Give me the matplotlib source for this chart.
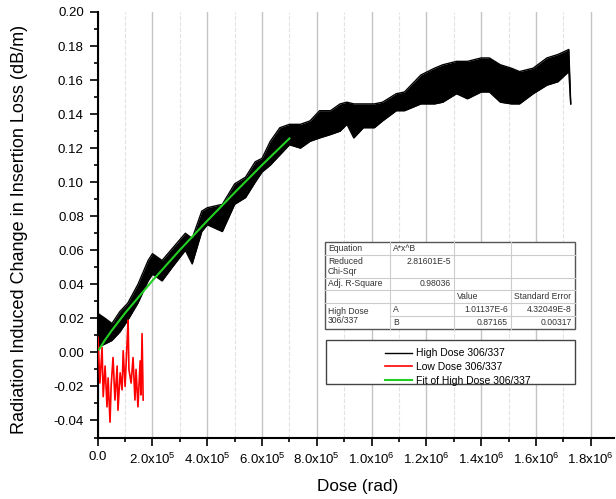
import numpy as np
import matplotlib
matplotlib.use("Agg")
import matplotlib.pyplot as plt
from matplotlib.ticker import MultipleLocator, FuncFormatter
from matplotlib.patches import Rectangle
from matplotlib.lines import Line2D

plt.rcParams['font.family'] = ['Liberation Sans', 'DejaVu Sans']
plt.rcParams['mathtext.fontset'] = 'custom'
plt.rcParams['mathtext.rm'] = 'Liberation Sans'
plt.rcParams['mathtext.it'] = 'Liberation Sans'

# high dose run: envelope of the noisy trace (dose in rad, loss in dB/m)
high_dose = [0, 2.7e4, 5.2e4, 8.1e4, 1.1e5, 1.47e5, 1.84e5, 2.0e5, 2.35e5, 2.72e5,
             3.2e5, 3.45e5, 3.8e5, 4.0e5, 4.55e5, 5.0e5, 5.4e5, 5.75e5, 6.0e5, 6.3e5,
             6.65e5, 7.0e5, 7.4e5, 7.75e5, 8.1e5, 8.5e5, 8.85e5, 9.1e5, 9.35e5, 9.7e5,
             1.01e6, 1.04e6, 1.09e6, 1.12e6, 1.18e6, 1.23e6, 1.26e6, 1.31e6, 1.35e6, 1.40e6,
             1.43e6, 1.47e6, 1.51e6, 1.54e6, 1.59e6, 1.64e6, 1.68e6, 1.72e6, 1.727e6]
high_lo = [0.003, 0.005, 0.007, 0.012, 0.019, 0.029, 0.042, 0.046, 0.042, 0.050,
           0.060, 0.052, 0.071, 0.075, 0.071, 0.087, 0.091, 0.100, 0.106, 0.110,
           0.116, 0.122, 0.120, 0.124, 0.126, 0.128, 0.130, 0.134, 0.126, 0.132,
           0.132, 0.136, 0.142, 0.142, 0.146, 0.146, 0.147, 0.152, 0.149, 0.153,
           0.153, 0.147, 0.146, 0.146, 0.152, 0.157, 0.159, 0.165, 0.146]
high_hi = [0.023, 0.020, 0.017, 0.024, 0.029, 0.040, 0.054, 0.058, 0.054, 0.061,
           0.070, 0.067, 0.083, 0.085, 0.087, 0.099, 0.103, 0.112, 0.114, 0.124,
           0.132, 0.134, 0.134, 0.136, 0.142, 0.142, 0.146, 0.147, 0.146, 0.146,
           0.146, 0.147, 0.152, 0.153, 0.163, 0.167, 0.169, 0.171, 0.171, 0.173,
           0.173, 0.169, 0.167, 0.165, 0.167, 0.173, 0.175, 0.178, 0.146]

# low dose run
low_dose = [1e3, 8e3, 1.6e4, 2e4, 2.7e4, 3.4e4, 3.8e4, 4.5e4, 4.9e4, 5.6e4,
            6.3e4, 7.1e4, 7.4e4, 8.2e4, 8.9e4, 9.3e4, 1.0e5, 1.07e5, 1.11e5, 1.14e5,
            1.22e5, 1.29e5, 1.36e5, 1.40e5, 1.47e5, 1.55e5, 1.58e5, 1.62e5, 1.66e5]
low_loss = [0.009, -0.018, 0.003, -0.026, -0.008, -0.032, -0.015, -0.041, -0.020, -0.003,
            -0.028, -0.008, -0.034, -0.012, -0.022, 0.001, -0.020, 0.005, 0.019, -0.010,
            -0.018, -0.003, -0.028, -0.010, -0.032, -0.005, -0.025, 0.011, -0.028]

# allometric fit of the high dose run
fit_dose = [5e3, 2.5e4, 5e4, 1e5, 2e5, 3e5, 4e5, 5e5, 6e5, 7e5]
fit_loss = [0.0017, 0.0069, 0.0126, 0.0231, 0.0422, 0.0602, 0.0773, 0.0939, 0.1101, 0.1257]

legend_labels = ['High Dose 306/337', 'Low Dose 306/337', 'Fit of High Dose 306/337']

table_rows = [
    [('Equation', 'l'), ('A*x^B', 'l'), ('', ''), ('', '')],
    [('Reduced\nChi-Sqr', 'l'), ('2.81601E-5', 'r'), ('', ''), ('', '')],
    [('Adj. R-Square', 'l'), ('0.98036', 'r'), ('', ''), ('', '')],
    [('', ''), ('', ''), ('Value', 'l'), ('Standard Error', 'l')],
    [('', ''), ('A', 'l'), ('1.01137E-6', 'r'), ('4.32049E-8', 'r')],
    [('', ''), ('B', 'l'), ('0.87165', 'r'), ('0.00317', 'r')],
]

W, H = 616, 499
fig = plt.figure(figsize=(W / 100, H / 100), dpi=100)
ax = fig.add_axes([97.7 / W, 1 - 437.5 / H, (614 - 97.7) / W, (437.5 - 12) / H])

ax.fill_between(high_dose, high_lo, high_hi, color='black', lw=0, zorder=3)
l1, = ax.plot(high_dose, high_hi, color='black', lw=1, zorder=3)
ax.plot(high_dose, high_lo, color='black', lw=1, zorder=3)
l2, = ax.plot(low_dose, low_loss, color='#ff0000', lw=1.2, zorder=4)
l3, = ax.plot(fit_dose, fit_loss, color='#22d022', lw=1.5, zorder=5)

ax.set_xlim(0, 1.885e6)
ax.set_ylim(-0.05, 0.20)

ax.xaxis.set_major_locator(MultipleLocator(2e5))
ax.xaxis.set_minor_locator(MultipleLocator(1e5))
ax.yaxis.set_major_locator(MultipleLocator(0.02))
ax.yaxis.set_minor_locator(MultipleLocator(0.01))


def sci(v, pos):
    if abs(v) < 1:
        return '0.0'
    if v < 0:
        return ''
    e = int(np.floor(np.log10(v) + 1e-9))
    return '%.1fx10$^{%d}$' % (v / 10 ** e, e)


ax.xaxis.set_major_formatter(FuncFormatter(sci))
ax.yaxis.set_major_formatter(FuncFormatter(lambda v, p: '%.2f' % (0 if abs(v) < 1e-9 else v)))

for s in ['top', 'right']:
    ax.spines[s].set_visible(False)
for s in ['left', 'bottom']:
    ax.spines[s].set_linewidth(1.5)
ax.tick_params(which='major', length=6, width=1.2, labelsize=9.5, pad=4)
ax.tick_params(which='minor', length=3, width=1.2)

ax.grid(True, axis='x', which='major', color='#c4c4c4', lw=1, zorder=0)
ax.grid(True, axis='x', which='minor', color='#e2e2e2', lw=0.8, ls='--', zorder=0)

ax.set_xlabel('Dose (rad)', fontsize=12.3)
ax.set_ylabel('Radiation Induced Change in Insertion Loss (dB/m)', fontsize=13)
ax.xaxis.set_label_coords(0.504, -0.0975)
ax.yaxis.set_label_coords(-0.135, 0.49)

# fit results table
cols = [325, 390, 454, 511, 575]
rows = [242, 255, 278, 290, 303, 316, 329]


def fx(px):
    return px / W


def fy(py):
    return 1 - py / H


fig.patches.append(Rectangle((fx(cols[0]), fy(rows[-1])), fx(cols[-1]) - fx(cols[0]),
                             fy(rows[0]) - fy(rows[-1]), transform=fig.transFigure,
                             facecolor='white', edgecolor='#555555', lw=1, zorder=10))
for c in cols[1:-1]:
    fig.lines.append(Line2D([fx(c), fx(c)], [fy(rows[0]), fy(rows[-1])],
                            transform=fig.transFigure, color='#cccccc', lw=0.8, zorder=11))
for i, r in enumerate(rows[1:-1]):
    x0 = cols[1] if i == 4 else cols[0]
    fig.lines.append(Line2D([fx(x0), fx(cols[-1])], [fy(r), fy(r)],
                            transform=fig.transFigure, color='#cccccc', lw=0.8, zorder=11))
for i, row in enumerate(table_rows):
    ymid = (rows[i] + rows[i + 1]) / 2
    for j, (txt, al) in enumerate(row):
        if not txt:
            continue
        if al == 'l':
            x, ha = cols[j] + 3, 'left'
        else:
            x, ha = cols[j + 1] - 3, 'right'
        y, va = ymid, 'center'
        if i == 1 and j == 1:
            y, va = rows[i] + 2, 'top'
        fig.text(fx(x), fy(y), txt, ha=ha, va=va, fontsize=6.2, color='#333333',
                 linespacing=1.1, zorder=12)
fig.text(fx(cols[0] + 3), fy((rows[4] + rows[6]) / 2), 'High Dose\n306/337', ha='left',
         va='center', fontsize=6.2, color='#333333', linespacing=1.1, zorder=12)

# legend box
fig.patches.append(Rectangle((fx(326), fy(384)), fx(575) - fx(326), fy(340) - fy(384),
                             transform=fig.transFigure, facecolor='white',
                             edgecolor='#444444', lw=1, zorder=10))
leg = fig.legend([l1, l2, l3], legend_labels, loc='upper left',
                 bbox_to_anchor=(fx(377), fy(340)), frameon=False, fontsize=7.5,
                 handlelength=2.6, handletextpad=0.3, labelspacing=0.35, borderpad=0.3)
leg.set_zorder(13)

fig.savefig('out.png', dpi=100)
